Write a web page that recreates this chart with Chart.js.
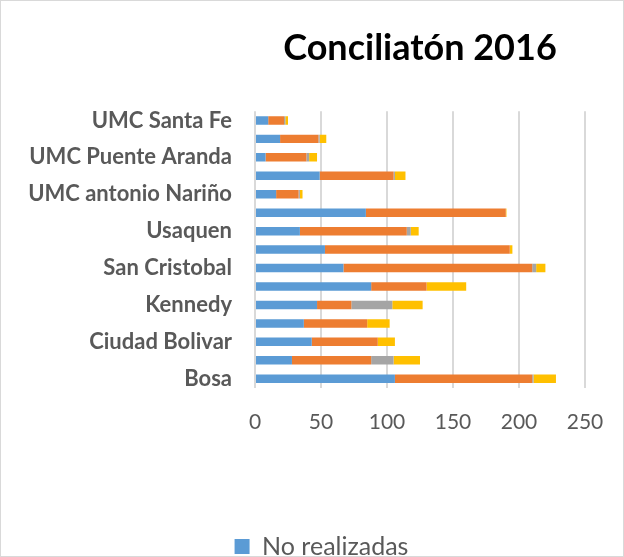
<!DOCTYPE html>
<html>
<head>
<meta charset="utf-8">
<script src="https://cdn.jsdelivr.net/npm/chart.js@4"></script>
<style>
  html, body { margin: 0; padding: 0; background: #fff; }
  #chart { display: block; outline: 1px solid #d9d9d9; outline-offset: -1px; }
</style>
</head>
<body>
<canvas id="chart" width="624" height="557"></canvas>
<script>
// categories, bottom to top as in the original sheet
const SEDES = [
  'Bosa', 'Chapinero', 'Ciudad Bolivar', 'Engativa', 'Kennedy', 'Rafael Uribe',
  'San Cristobal', 'Suba', 'Usaquen', 'Usme', 'UMC antonio Nariño', 'UMC Engativa',
  'UMC Puente Aranda', 'UMC Rafael Uribe', 'UMC Santa Fe'
];

const NO_REALIZADAS  = [106, 28, 43, 37, 47, 88, 67, 53, 34, 84, 16, 49, 8, 19, 10];
const CONCILIADAS    = [104, 60, 50, 48, 26, 42, 143, 140, 81, 106, 17, 56, 31, 29, 12];
const NO_CONCILIADAS = [1, 17, 0, 0, 31, 0, 3, 0, 3, 0, 1, 1, 2, 1, 1];
const DESISTIDAS     = [17, 20, 13, 17, 23, 30, 7, 2, 6, 0.5, 2, 8, 6, 5, 2];

const X_TICKS = [0, 50, 100, 150, 200, 250];

const TEXT = '#595959';
const FONT = 'Lato, "Open Sans", sans-serif';

const series = [
  { label: 'No realizadas',  data: NO_REALIZADAS,  color: '#5B9BD5' },
  { label: 'Conciliadas',    data: CONCILIADAS,    color: '#ED7D31' },
  { label: 'No conciliadas', data: NO_CONCILIADAS, color: '#A5A5A5' },
  { label: 'Desistidas',     data: DESISTIDAS,     color: '#FFC000' }
];

const ctx = document.getElementById('chart').getContext('2d');
new Chart(ctx, {
  type: 'bar',
  data: {
    labels: SEDES,
    datasets: series.map(s => ({
      label: s.label,
      data: s.data,
      backgroundColor: s.color,
      borderWidth: 0,
      barPercentage: 0.46,
      categoryPercentage: 1
    }))
  },
  options: {
    indexAxis: 'y',
    responsive: false,
    animation: false,
    layout: { padding: { top: 0, right: 0, bottom: -12, left: 19 } },
    plugins: {
      title: {
        display: true,
        text: 'Conciliatón 2016',
        fullSize: false,
        color: '#000',
        font: { family: FONT, size: 36, weight: 'bold' },
        padding: { top: 27, bottom: 41 }
      },
      legend: {
        position: 'bottom',
        labels: {
          filter: item => item.datasetIndex === 0,
          color: TEXT,
          font: { family: FONT, size: 25 },
          boxWidth: 15,
          boxHeight: 15,
          padding: 2
        }
      },
      tooltip: { enabled: false }
    },
    scales: {
      x: {
        stacked: true,
        min: 0, max: 250,
        afterBuildTicks: axis => { axis.ticks = X_TICKS.map(v => ({ value: v })); },
        afterFit: axis => { axis.height = 144; axis.paddingRight = 39; },
        ticks: { color: TEXT, font: { family: FONT, size: 21 }, padding: 22 },
        grid: { color: '#d9d9d9', lineWidth: 2, drawTicks: false },
        border: { display: false }
      },
      y: {
        stacked: true,
        reverse: true,
        afterFit: axis => { axis.width = 236; },
        ticks: {
          autoSkip: false,
          color: TEXT,
          font: { family: FONT, size: 22, weight: 'bold' },
          padding: 15,
          callback: (v, i) => i % 2 === 0 ? SEDES[i] : ''
        },
        grid: { display: false },
        border: { display: false }
      }
    }
  }
});
</script>
</body>
</html>
